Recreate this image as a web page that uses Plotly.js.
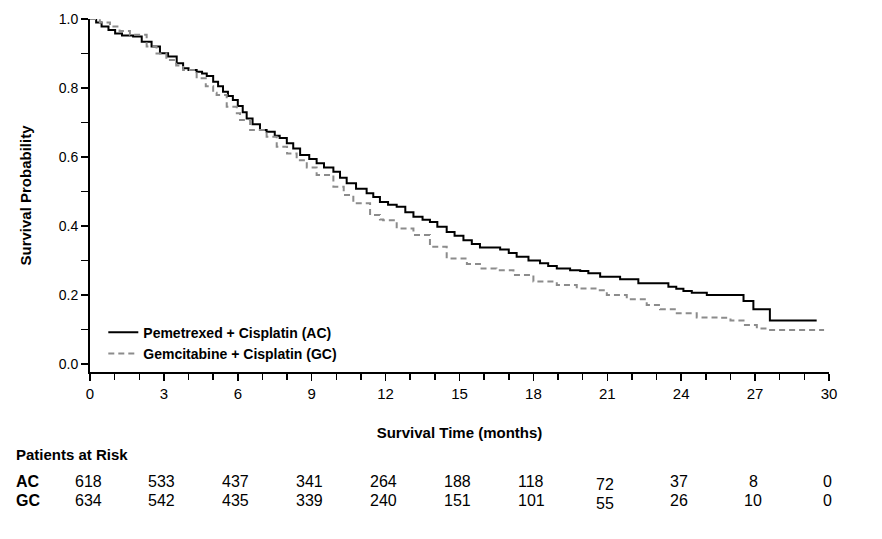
<!DOCTYPE html>
<html>
<head>
<meta charset="utf-8">
<script src="https://cdn.plot.ly/plotly-3.0.1.min.js"></script>
<style>html,body{margin:0;padding:0;background:#fff;}#chart{width:882px;height:539px;}</style>
</head>
<body>
<div id="chart"></div>
<script>
// Kaplan-Meier readings (months, survival probability)
const acTime = [0, 0.25, 0.47, 0.75, 1.02, 1.3, 1.75, 2.1, 2.5, 2.84, 3.17, 3.52, 3.78, 4.0, 4.33, 4.55, 4.74, 5.0, 5.2, 5.4, 5.6, 5.8, 6.0, 6.2, 6.36, 6.6, 6.9, 7.17, 7.5, 7.7, 7.99, 8.25, 8.53, 8.9, 9.2, 9.5, 9.88, 10.15, 10.42, 10.8, 11.23, 11.5, 11.77, 12.1, 12.45, 12.8, 13.13, 13.5, 13.8, 14.1, 14.48, 14.8, 15.16, 15.5, 15.83, 16.65, 17.0, 17.32, 17.8, 18.27, 18.6, 18.95, 19.49, 19.9, 20.23, 20.71, 21.52, 22.26, 23.48, 23.8, 24.09, 24.43, 25.04, 26.53, 26.93, 27.6, 29.5];
const acSurv = [1.0, 0.99, 0.978, 0.968, 0.958, 0.952, 0.949, 0.934, 0.92, 0.901, 0.891, 0.872, 0.857, 0.852, 0.847, 0.842, 0.835, 0.818, 0.805, 0.789, 0.777, 0.765, 0.748, 0.73, 0.712, 0.695, 0.678, 0.673, 0.662, 0.655, 0.64, 0.625, 0.606, 0.594, 0.582, 0.57, 0.557, 0.54, 0.524, 0.508, 0.495, 0.484, 0.47, 0.462, 0.456, 0.44, 0.427, 0.418, 0.412, 0.398, 0.383, 0.372, 0.359, 0.348, 0.338, 0.332, 0.322, 0.311, 0.3, 0.292, 0.284, 0.277, 0.272, 0.27, 0.263, 0.253, 0.246, 0.234, 0.224, 0.218, 0.212, 0.207, 0.2, 0.183, 0.159, 0.126, 0.126];

const gcTime = [0, 0.4, 0.81, 1.2, 1.62, 2.3, 2.7, 3.1, 3.5, 3.78, 4.33, 4.7, 5.0, 5.14, 5.55, 5.96, 6.09, 6.5, 7.17, 7.58, 8.0, 8.39, 8.8, 9.2, 9.88, 10.3, 10.69, 11.37, 11.77, 11.9, 12.45, 13.13, 13.8, 14.48, 15.3, 15.83, 16.5, 17.19, 18.0, 18.95, 19.76, 20.57, 20.98, 21.79, 22.6, 23.14, 23.82, 24.63, 25.6, 26.0, 26.53, 27.07, 27.47, 29.8];
const gcSurv = [1.0, 0.99, 0.978, 0.965, 0.954, 0.92, 0.9, 0.881, 0.865, 0.852, 0.828, 0.805, 0.786, 0.78, 0.746, 0.727, 0.707, 0.678, 0.659, 0.63, 0.61, 0.591, 0.57, 0.548, 0.514, 0.49, 0.466, 0.432, 0.419, 0.417, 0.393, 0.374, 0.34, 0.306, 0.29, 0.277, 0.272, 0.258, 0.239, 0.229, 0.219, 0.214, 0.2, 0.188, 0.171, 0.159, 0.147, 0.135, 0.134, 0.126, 0.113, 0.103, 0.099, 0.099];

const seriesNames = ["Pemetrexed + Cisplatin (AC)", "Gemcitabine + Cisplatin (GC)"];

// Patients at risk
const riskTimes = [0, 3, 6, 9, 12, 15, 18, 21, 24, 27, 30];
const riskLabels = ["AC", "GC"];
const riskAC = [618, 533, 437, 341, 264, 188, 118, 72, 37, 8, 0];
const riskGC = [634, 542, 435, 339, 240, 151, 101, 55, 26, 10, 0];

const FONT = '"Liberation Sans", Arial, sans-serif';

const traces = [
  {x: acTime, y: acSurv, name: seriesNames[0], mode: 'lines', line: {shape: 'hv', color: '#000000', width: 2}},
  {x: gcTime, y: gcSurv, name: seriesNames[1], mode: 'lines', line: {shape: 'hv', color: '#8c8c8c', width: 2, dash: '6px,4px'}}
];

const annotations = [];
annotations.push({text: '<b>Patients at Risk</b>', xref: 'paper', yref: 'paper', x: -0.103, y: -0.235, xanchor: 'left', yanchor: 'middle', showarrow: false, font: {family: FONT, size: 15, color: '#000'}});
const rows = [riskAC, riskGC];
const rowY = [-0.309, -0.363];
rows.forEach((row, r) => {
  annotations.push({text: '<b>' + riskLabels[r] + '</b>', xref: 'paper', yref: 'paper', x: -0.103, y: rowY[r], xanchor: 'left', yanchor: 'middle', showarrow: false, font: {family: FONT, size: 16, color: '#000'}});
  row.forEach((v, i) => {
    annotations.push({text: String(v), xref: 'x', yref: 'paper', x: riskTimes[i], y: rowY[r], xanchor: 'center', yanchor: 'middle', showarrow: false, xshift: -2, yshift: (riskTimes[i] === 21 ? -3 : 0), font: {family: FONT, size: 16, color: '#000'}});
  });
});

const layout = {
  width: 882, height: 539,
  margin: {l: 90, r: 53, t: 19, b: 167},
  paper_bgcolor: '#fff', plot_bgcolor: '#fff',
  font: {family: FONT, size: 14, color: '#000'},
  showlegend: true,
  legend: {x: 0.018, y: 0.157, xanchor: 'left', yanchor: 'top', bgcolor: 'rgba(0,0,0,0)', font: {family: FONT, size: 14, color: '#000', weight: 'bold'}, tracegroupgap: 0, itemwidth: 30},
  xaxis: {
    range: [0, 30], tickvals: riskTimes, ticks: 'outside', ticklen: 7, tickwidth: 1.5, tickcolor: '#000',
    showline: true, linecolor: '#000', linewidth: 2, showgrid: false, zeroline: false,
    tickfont: {family: FONT, size: 15},
    minor: {dtick: 1, ticks: 'outside', ticklen: 6, tickwidth: 1.5, tickcolor: '#000', showgrid: false},
    title: {text: 'Survival Time (months)', font: {family: FONT, size: 15, weight: 'bold'}, standoff: 26}
  },
  yaxis: {
    range: [-0.023, 1.0], tickvals: [0, 0.2, 0.4, 0.6, 0.8, 1.0], ticktext: ['0.0', '0.2', '0.4', '0.6', '0.8', '1.0'],
    ticks: 'outside', ticklen: 7, tickwidth: 1.5, tickcolor: '#000',
    showline: true, linecolor: '#000', linewidth: 2, showgrid: false, zeroline: false,
    tickfont: {family: FONT, size: 14},
    minor: {dtick: 0.1, ticks: 'outside', ticklen: 7, tickwidth: 1.5, tickcolor: '#000', showgrid: false},
    title: {text: 'Survival Probability', font: {family: FONT, size: 15, weight: 'bold'}, standoff: 23}
  },
  annotations: annotations
};

Plotly.newPlot('chart', traces, layout, {displayModeBar: false, staticPlot: true});
</script>
</body>
</html>
